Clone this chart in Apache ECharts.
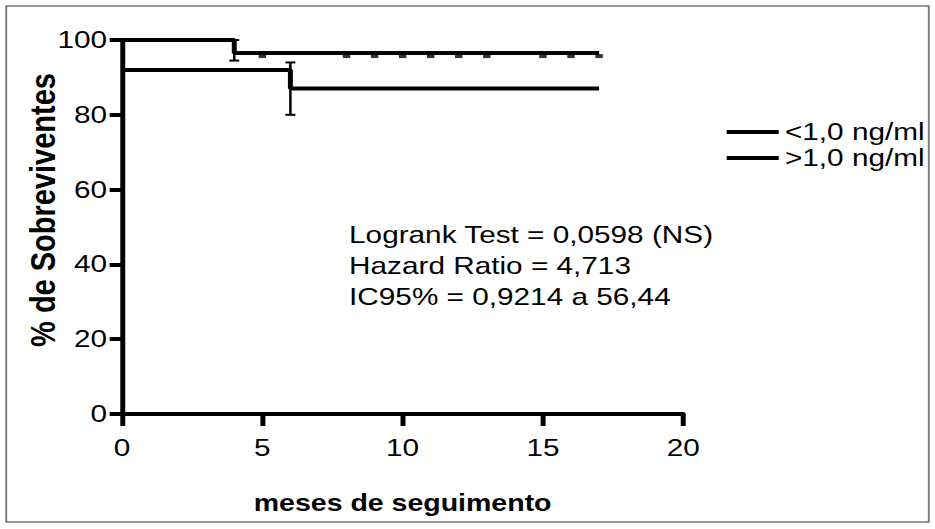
<!DOCTYPE html>
<html>
<head>
<meta charset="utf-8">
<script src="https://cdn.jsdelivr.net/npm/echarts@6/dist/echarts.min.js"></script>
<style>
  html, body { margin: 0; padding: 0; background: #fff; overflow: hidden; }
  /* the original figure is stretched horizontally, so draw narrower and widen it */
  #chart { width: 754px; height: 529px; transform: scaleX(1.24); transform-origin: 0 0; }
</style>
</head>
<body>
<div id="chart"></div>
<script>
// curvas de Kaplan-Meier (pontos do degrau)
const curveLow = [[0, 100], [4, 100], [4, 96.5], [17, 96.5]]
const curveHigh = [[0, 92], [6, 92], [6, 87], [17, 87]]
// censuras na curva <1,0
const censorLow = [[5, 96.5], [8, 96.5], [9, 96.5], [10, 96.5], [11, 96.5], [12, 96.5], [13, 96.5], [15, 96.5], [16, 96.5], [17, 96.5]]
// barras de erro: [x, inferior, superior]
const errLow = [[4, 94.5, 100]]
const errHigh = [[6, 80, 94]]
const xTicks = [0, 5, 10, 15, 20]
const yTicks = [0, 20, 40, 60, 80, 100]
const seriesNames = ['<1,0 ng/ml', '>1,0 ng/ml']
const statsText = ['Logrank Test = 0,0598 (NS)', 'Hazard Ratio = 4,713', 'IC95% = 0,9214 a 56,44']

const chart = echarts.init(document.getElementById('chart'), null, { renderer: 'svg' })
const font = 'Liberation Sans, Arial, sans-serif'

function errorBar(params, api) {
  const x = api.value(0)
  const lo = api.coord([x, api.value(1)])
  const hi = api.coord([x, api.value(2)])
  const cap = 4
  const style = { stroke: '#000', lineWidth: 2 }
  return {
    type: 'group',
    children: [
      { type: 'line', shape: { x1: lo[0], y1: lo[1], x2: hi[0], y2: hi[1] }, style },
      { type: 'line', shape: { x1: lo[0] - cap, y1: lo[1], x2: lo[0] + cap, y2: lo[1] }, style },
      { type: 'line', shape: { x1: hi[0] - cap, y1: hi[1], x2: hi[0] + cap, y2: hi[1] }, style },
    ],
  }
}

chart.setOption({
  animation: false,
  grid: { left: 98.4, right: 203, top: 40, bottom: 115 },
  legend: {
    orient: 'vertical',
    left: 581,
    top: 115,
    itemWidth: 42,
    itemHeight: 4,
    itemGap: 2,
    icon: 'rect',
    data: seriesNames,
    textStyle: { color: '#000', fontSize: 24, lineHeight: 24, fontFamily: font },
  },
  xAxis: {
    type: 'value',
    min: xTicks[0],
    max: xTicks[xTicks.length - 1],
    interval: 5,
    splitLine: { show: false },
    axisLine: { lineStyle: { color: '#000', width: 4 } },
    axisTick: { length: 12, lineStyle: { color: '#000', width: 4 } },
    axisLabel: { color: '#000', fontSize: 24, fontFamily: font, margin: 22 },
    name: 'meses de seguimento',
    nameLocation: 'middle',
    nameGap: 77,
    nameMoveOverlap: false,
    nameTextStyle: { color: '#000', fontSize: 23, fontWeight: 'bold', fontFamily: font },
  },
  yAxis: {
    type: 'value',
    min: yTicks[0],
    max: yTicks[yTicks.length - 1],
    interval: 20,
    splitLine: { show: false },
    axisLine: { lineStyle: { color: '#000', width: 4 } },
    axisTick: { length: 10, lineStyle: { color: '#000', width: 4 } },
    axisLabel: { color: '#000', fontSize: 24, fontFamily: font, margin: 12 },
    name: '% de Sobreviventes',
    nameLocation: 'middle',
    nameGap: 50,
    nameMoveOverlap: false,
    nameTextStyle: { color: '#000', fontSize: 29, fontWeight: 'bold', fontFamily: font, padding: [0, 0, 0, 34] },
  },
  graphic: [
    { type: 'rect', shape: { x: 5, y: 6, width: 744, height: 516 }, style: { fill: 'none', stroke: '#777', lineWidth: 1.5 } },
    ...statsText.map((t, i) => ({
      type: 'text', left: 281.5, top: 223 + i * 31,
      style: { text: t, fill: '#000', font: '24px ' + font },
    })),
  ],
  series: [
    {
      name: seriesNames[0], type: 'line', data: curveLow, symbol: 'none',
      lineStyle: { color: '#000', width: 4 }, itemStyle: { color: '#000' },
    },
    {
      name: seriesNames[1], type: 'line', data: curveHigh, symbol: 'none',
      lineStyle: { color: '#000', width: 4 }, itemStyle: { color: '#000' },
    },
    {
      type: 'scatter', data: censorLow, symbol: 'rect', symbolSize: [6, 4], symbolOffset: [0, 3],
      itemStyle: { color: '#000' }, z: 3,
    },
    { type: 'custom', data: errLow, renderItem: errorBar, z: 3 },
    { type: 'custom', data: errHigh, renderItem: errorBar, z: 3 },
  ],
})
</script>
</body>
</html>
